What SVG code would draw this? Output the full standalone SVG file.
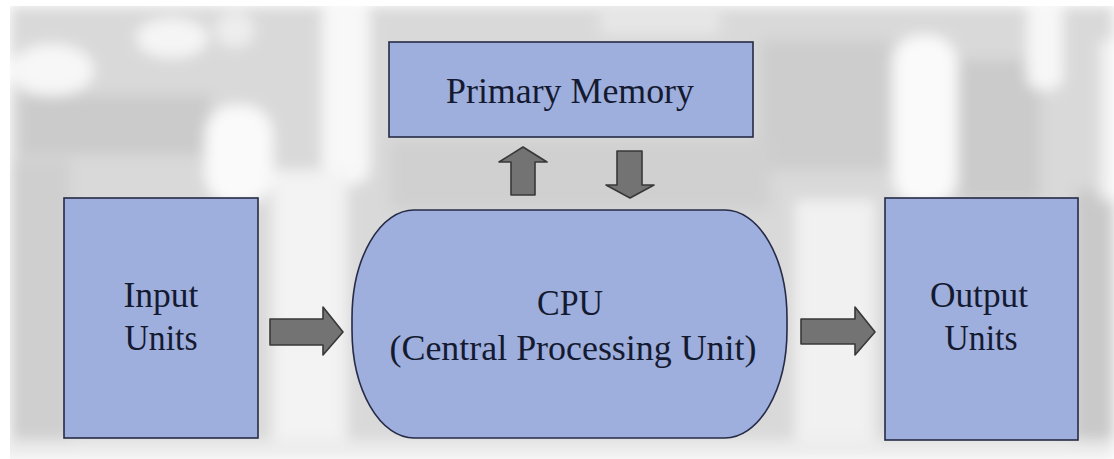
<svg xmlns="http://www.w3.org/2000/svg" width="1114" height="459" viewBox="0 0 1114 459">
  <style>
    .box { fill: #9eaedd; stroke: #262b46; stroke-width: 1.6; }
    .lbl { font-family: "Liberation Serif", "Times New Roman", serif; font-size: 35px; fill: #141a30; text-anchor: middle; }
    .arr { fill: #737373; stroke: #383838; stroke-width: 1.6; stroke-linejoin: round; }
  </style>
  <defs>
    <filter id="blur" x="-20%" y="-20%" width="140%" height="140%">
      <feGaussianBlur stdDeviation="7"/>
    </filter>
  </defs>

  <!-- background photo approximation -->
  <g id="background">
    <rect x="0" y="0" width="1114" height="459" fill="#ffffff"/>
    <g filter="url(#blur)">
      <rect x="10" y="6" width="1104" height="446" fill="#d9d9d9"/>
      <rect x="20" y="95" width="190" height="60" fill="#cbcbcb"/>
      <rect x="10" y="160" width="60" height="280" fill="#cfcfcf"/>
      <rect x="760" y="40" width="130" height="130" fill="#cdcdcd"/>
      <rect x="960" y="60" width="80" height="140" fill="#cbcbcb"/>
      <rect x="1075" y="190" width="39" height="250" fill="#c9c9c9"/>
      <rect x="390" y="140" width="380" height="70" fill="#d0d0d0"/>
      <ellipse cx="52" cy="70" rx="42" ry="26" fill="#f7f7f7"/>
      <ellipse cx="172" cy="38" rx="36" ry="20" fill="#f5f5f5"/>
      <ellipse cx="235" cy="30" rx="20" ry="18" fill="#ededed"/>
      <rect x="205" y="105" width="68" height="100" rx="30" fill="#fafafa"/>
      <rect x="322" y="0" width="48" height="185" rx="18" fill="#f8f8f8"/>
      <rect x="893" y="35" width="64" height="170" rx="28" fill="#fafafa"/>
      <rect x="1027" y="0" width="36" height="90" rx="14" fill="#f7f7f7"/>
      <rect x="1100" y="40" width="14" height="160" fill="#f2f2f2"/>
      <rect x="272" y="170" width="75" height="289" fill="#f3f3f3"/>
      <rect x="795" y="200" width="80" height="259" fill="#f1f1f1"/>
      <rect x="0" y="440" width="1114" height="19" fill="#ececec"/>
      <rect x="600" y="0" width="120" height="35" fill="#e6e6e6"/>
    </g>
    <rect x="0" y="0" width="1114" height="6" fill="#ffffff"/>
    <rect x="0" y="0" width="10" height="459" fill="#ffffff"/>
  </g>

  <g id="connectors">
    <path class="arr" d="M511,195 L511,162 L499,162 L523,147 L547,162 L535,162 L535,195 Z"/>
    <path class="arr" d="M617,151 L642,151 L642,185 L654,185 L630,198 L606,185 L617,185 Z"/>
    <path class="arr" d="M270,319 L323,319 L323,307 L343,332 L323,355 L323,345 L270,345 Z"/>
    <path class="arr" d="M801,319 L855,319 L855,307 L875,332 L855,355 L855,344 L801,344 Z"/>
  </g>

  <g id="primary-memory">
    <rect class="box" x="389" y="42" width="364" height="95"/>
    <text class="lbl" x="570" y="103" textLength="248" lengthAdjust="spacingAndGlyphs">Primary Memory</text>
  </g>

  <g id="input-units">
    <rect class="box" x="64" y="198" width="194" height="240"/>
    <text class="lbl" x="161" y="307" textLength="75" lengthAdjust="spacingAndGlyphs">Input</text>
    <text class="lbl" x="161" y="350" textLength="73" lengthAdjust="spacingAndGlyphs">Units</text>
  </g>

  <g id="cpu">
    <rect class="box" x="352" y="210" width="435" height="228" rx="62" ry="108"/>
    <text class="lbl" x="570" y="315" textLength="66" lengthAdjust="spacingAndGlyphs">CPU</text>
    <text class="lbl" x="573" y="360" textLength="367" lengthAdjust="spacingAndGlyphs">(Central Processing Unit)</text>
  </g>

  <g id="output-units">
    <rect class="box" x="885" y="198" width="193" height="242"/>
    <text class="lbl" x="979" y="307" textLength="98" lengthAdjust="spacingAndGlyphs">Output</text>
    <text class="lbl" x="981" y="350" textLength="73" lengthAdjust="spacingAndGlyphs">Units</text>
  </g>
</svg>
